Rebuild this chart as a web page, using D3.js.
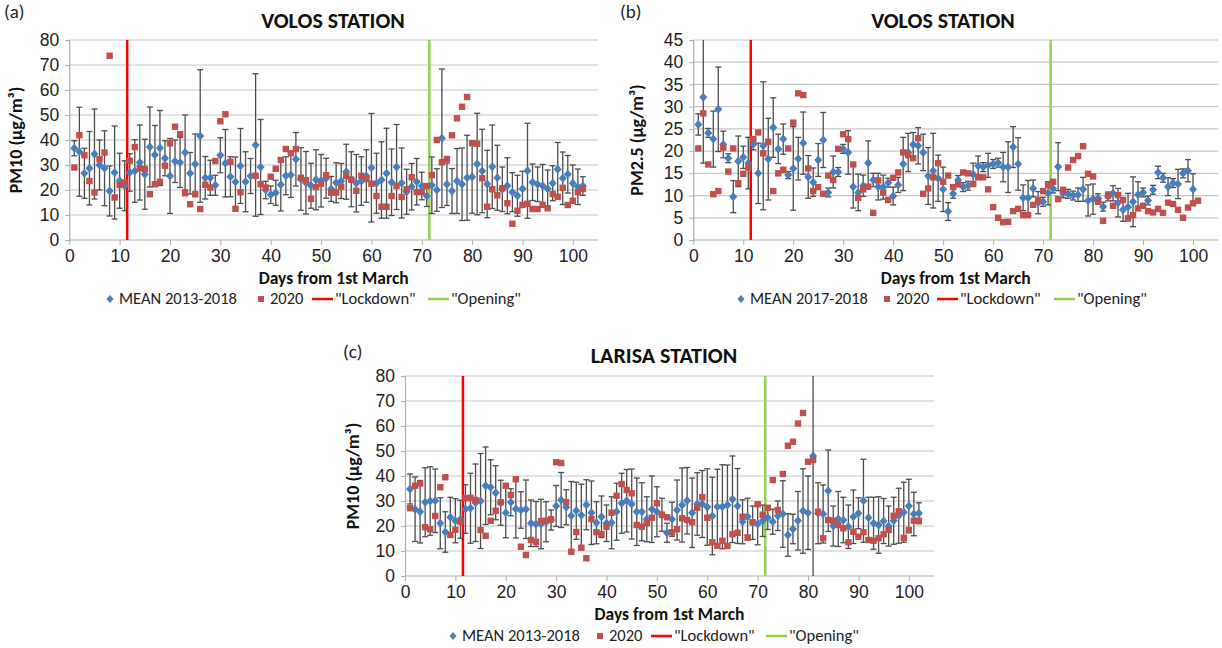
<!DOCTYPE html>
<html>
<head>
<meta charset="utf-8">
<script src="https://cdn.jsdelivr.net/npm/d3@7"></script>
<style>
  body { margin: 0; background: #fff; }
  svg { font-family: Carlito, Lato, "Open Sans", sans-serif; }
</style>
</head>
<body>
<svg id="chart" width="1222" height="648"></svg>
<script>
// days from 1st March
const daysA = d3.range(1, 103);
const daysB = d3.range(1, 102);
const daysC = d3.range(1, 103);

// (a) Volos PM10
const meanA = [36.7,35.3,26.7,28.7,34.4,30,28.7,19.6,27,23.7,21.7,27,27.6,31,26.3,37.2,34.1,36.8,32.7,25.6,
  31.5,31,35,26.7,30.4,41.6,24.9,24.9,21.9,33.9,30.7,25.3,23.2,29.6,23.3,25.6,38,29.2,20,18.1,
  18.9,22.1,25.7,26,32.3,24.4,22.9,21.7,24.1,23.7,24.7,20.4,22.9,23.6,27.3,24.3,22.7,23.6,25.6,28.9,
  22.7,24,26.7,23.1,29.2,22.8,19.3,21.3,23.3,21.6,17.6,21.9,20,40.7,22.3,19.6,23.6,22.3,24.9,25.2,
  30.4,27.6,22.4,29.3,24.9,20.3,21.7,19.1,17.7,20.5,27.7,23.1,22.3,21.7,20.5,22.7,28.3,24.7,26.3,22.7,
  21.3,21.6];
const sdA = [3,17.8,10,14.7,18,10,15,10,18.6,11,10,7.5,12.5,15,14,16,11.7,15,7,15,
  8.5,10,15,8.3,12,26.5,8.5,7,4,7,13.5,8,10,15,12,7,28.5,19,3.5,3.5,
  5,10.5,7.6,9,10.7,12.5,12.5,9,12,10.5,8,5,8,7,11,11,11.5,9.7,10.5,21.7,
  12,15.3,18,13.3,17,14,9,9.3,9.3,5.5,4.2,11.3,8.5,27.7,8.5,9,13,14.5,17,14.5,
  20.3,16.7,13.5,16.7,13,8.9,11.2,7.8,8.2,7,19,7.3,6.9,8.5,7.5,7,10.7,10.5,7.5,7.3,
  7.1,3.7];
const y2020A = [29,41.9,33.9,23.6,19,32.3,35,73.7,17,22,23,31.7,37.2,28.7,28.4,18.3,22.3,23.3,29.7,38.7,
  45.3,42.3,18.7,14.3,18.3,12.4,22.1,21,31.6,47.5,50.3,31.3,12.5,19.1,null,null,25.7,22.3,21,25.3,
  28.5,32,36.4,34.7,36.4,24.9,23.9,16.5,21.2,22.5,25.9,18.9,19,21.3,25.7,24.1,19.7,25.7,24.4,22.5,
  17.6,13.3,13.3,17.6,21.6,17.2,20.3,25.1,19.2,19.2,21.6,26,40,31.1,32.4,41.9,48.7,53.3,57.2,38.7,
  38.5,24.7,13.3,20.3,17.9,20.7,14.7,6.5,11.7,14,14.5,12.4,12.4,14.1,12.7,18.4,17.3,20.9,14,15.7,
  19.1,20.4];

// (b) Volos PM2.5
const meanB = [26,32.1,24.1,22.7,29.4,21.5,18.4,9.75,17.7,18.6,17.3,21.5,15,21.2,18.2,25.3,20.5,22.7,14.6,16.1,
  18.3,21.8,14.2,13,18,22.5,10.7,15.3,15.3,20.5,19.7,12,10.7,12.2,17.3,13.5,12,11.9,12.9,9.9,
  12.4,17.1,19.7,21.5,21.2,19.7,14.4,15.6,13.9,11.4,6.4,10.4,13.5,11.9,12.2,14.8,16.7,16.4,16.8,17.1,
  17.4,16.4,16.4,20.9,17.1,9.5,9.5,11.6,8.4,8.6,10.5,11.6,16.5,10.5,10.4,10,10.2,11.4,8.9,9.2,
  9.4,7.5,9.8,10.5,8.4,6.8,7.4,8.6,10.2,10.7,8.9,11.3,15.2,14,12,12.8,12.6,15,15.6,11.4,null];
const sdB = [2.4,14.8,1,6.3,9.5,3,1,3.6,5.7,2.5,5.8,1.2,6.8,14.4,9.2,6.7,3.3,3.4,0.8,9.4,
  4.8,7,4.8,3.2,3.7,6.2,1,3.6,1,1,4.9,4.8,4.1,2.4,5,1.5,3,2.7,1,2,
  1.7,6,4.3,2.7,4.1,4.1,6.4,8.4,5.2,5,2,1,1,1,1,2.5,2.2,1,2.7,1,
  1,3.3,5.7,4.6,5.9,2.9,3.9,1.9,2.5,1,2.6,1,5.4,1,1,1,1.5,2.7,3.5,3.4,
  1,1,1,1.7,3.2,2.6,3.1,5.6,2.9,1,1,1,1.4,1,2,1,3.3,1,2.5,3.5,null];
const y2020B = [20.6,28.5,17,10.3,11,20.8,15.4,20.6,12.8,14.9,16.3,22.7,24.2,19.5,22.1,11,15,15.8,20.6,26.4,
  33,32.6,16.1,11,11.9,10.4,14.5,13.5,20.5,23.8,22.7,17,9.5,11.4,12,6.1,13.4,10.7,9,14,
  15.2,19.7,19.1,18.4,22.9,10.4,11.6,14.1,17.3,13.1,14.5,11.9,12.5,15.2,15,12.6,14.1,14.1,11.4,7.4,
  5,4,4.1,6.5,7,5.6,5.6,7.9,9,11,12.4,13.1,9.2,11.3,16.3,18,18.9,21.1,14.9,14.3,
  8.6,4.3,10,7.7,10.1,9,4.9,5.6,7.1,7.7,6.5,6.2,7,6.1,8.4,8.1,6.8,5,7.3,8.25,8.85];

// (c) Larisa PM10
const meanC = [34.8,26.7,25.7,29.5,30,30.1,21.1,17.6,23.5,22.1,22.7,26.8,27.1,29.3,30,36.1,35.5,33.3,29.3,25.3,
  29.5,26.8,26.4,26.7,21.1,20.8,20.8,21.7,22.4,28,30.4,27.5,24.1,26.1,24.3,28.5,25.3,21.3,23.7,21.1,
  21.3,25.7,29.1,30.1,28.8,25.7,25.7,22.7,26.7,25.7,24.5,17.3,22.7,26.4,28.4,30.1,25.3,28.8,28.8,27.6,
  24,27.7,27.7,28.4,30.7,28,21.7,23.7,21.3,20.8,22.1,23.3,21.7,24.1,24.8,16.4,18.8,22.1,26,25.3,
  48,25.1,24.8,34.1,20,22.8,22.4,19.7,23.7,25.1,30.1,23.3,21.1,20.4,22,20,22.1,24.1,25.5,28,
  24.8,25.1];
const sdC = [6,12.9,12.5,13.8,13.7,12.7,10.2,8.1,8,8.8,7.6,9.7,14,15.5,19,15.5,11,10.8,9,10,
  5.4,11.6,7.3,11.7,9.3,9,9.9,8,4,8.2,11,7,13.7,11.4,12.4,10,12.7,8.4,8.3,7.3,
  10.4,11.4,12,12.5,14,13.5,11.6,9,13.3,10,6.6,3.8,6.8,12,14.8,13.3,13.9,12.5,13.4,15.3,
  15.5,15,16.8,16,17.3,15,8.8,7.4,6.7,8.3,6.3,4.7,5,5.9,13.3,8.5,5.9,11.7,16.9,14.7,
  50,12.2,11.6,16.3,8,11,9.1,8.7,10.7,6.2,16.6,8.2,10.4,11.3,9,8,9.4,11,12,10.7,
  8.7,4.2];
const y2020C = [27.1,36.1,37,19.5,18.7,24,35.5,39.5,16.4,18.5,21.7,31.1,31.3,30.4,18.4,16.1,22.1,26.1,29.5,36.1,
  32.4,38.7,11.7,8.4,14.4,13.7,22,22.1,22.7,45.5,45.2,29.5,9.7,17.6,11.3,7.1,22.8,17.5,16.8,19.7,
  25.3,32.1,36.8,34.4,33.1,20.4,19.7,21.1,23.3,29.1,24.5,23.5,17.5,18.7,23.1,22.4,21.5,27.3,31.5,23.3,
  13.5,12.1,14.1,12,16.7,17.3,23.7,15.3,21.5,28.7,24.5,27.3,38.4,26.4,40.8,52.1,53.7,61,65.2,45.7,
  46.4,25.7,15.1,22.4,22.1,20.4,19.1,13.5,17.7,15.7,17.5,14.4,14.1,15.1,16.7,18.4,24.1,25.9,15.3,18.4,
  22.1,22.1];

const xTicks = d3.range(0, 101, 10);
const lockdownDay = 11.5;
const openingDay = 71.5;

const BLUE = "#4a7ebb", RED = "#c0504d", BAR = "#4d4d4d", GRID = "#c8c8c8", TXT = "#222";
const svg = d3.select("#chart");

function drawPanel(p) {
  const x = d3.scaleLinear().domain([0, 105]).range([p.left, p.right]);
  const y = d3.scaleLinear().domain([0, p.ymax]).range([p.bottom, p.top]);
  const g = svg.append("g");

  // grid
  g.append("g").selectAll("line").data(d3.range(p.ystep, p.ymax + 0.01, p.ystep)).join("line")
    .attr("x1", p.left).attr("x2", p.right)
    .attr("y1", d => y(d)).attr("y2", d => y(d))
    .attr("stroke", GRID).attr("stroke-width", 1.2);

  // axes
  const yAxis = g.append("g").attr("transform", `translate(${p.left},0)`)
    .call(d3.axisLeft(y).tickValues(d3.range(0, p.ymax + 0.01, p.ystep)).tickSize(4).tickPadding(6));
  const xAxis = g.append("g").attr("transform", `translate(0,${p.bottom})`)
    .call(d3.axisBottom(x).tickValues(xTicks).tickSize(5).tickPadding(5));
  [xAxis, yAxis].forEach(a => {
    a.select(".domain").attr("stroke", "#b0b0b0").attr("stroke-width", 1.2);
    a.selectAll(".tick line").attr("stroke", "#b0b0b0");
    a.selectAll(".tick text").attr("fill", TXT).attr("font-size", 17.5);
  });
  xAxis.select(".domain").attr("d", `M${p.left},0H${p.right}`);

  // event lines
  g.append("line").attr("x1", x(lockdownDay)).attr("x2", x(lockdownDay))
    .attr("y1", y(0)).attr("y2", y(p.ymax)).attr("stroke", "#ff0000").attr("stroke-width", 2.5);
  g.append("line").attr("x1", x(openingDay)).attr("x2", x(openingDay))
    .attr("y1", y(0)).attr("y2", y(p.ymax)).attr("stroke", "#92d050").attr("stroke-width", 2.5);

  const meanPts = p.days.map((d, i) => ({ d, m: p.mean[i], s: p.sd[i] })).filter(e => e.m != null);
  const clampY = v => y(Math.max(0, Math.min(p.ymax, v)));

  // error bars
  const eb = g.append("g").attr("stroke", BAR).attr("stroke-width", 1.3);
  eb.selectAll("line.v").data(meanPts).join("line").attr("class", "v")
    .attr("x1", e => x(e.d)).attr("x2", e => x(e.d))
    .attr("y1", e => clampY(e.m - e.s)).attr("y2", e => clampY(e.m + e.s));
  eb.selectAll("line.hi").data(meanPts.filter(e => e.m + e.s <= p.ymax)).join("line").attr("class", "hi")
    .attr("x1", e => x(e.d) - 3).attr("x2", e => x(e.d) + 3)
    .attr("y1", e => y(e.m + e.s)).attr("y2", e => y(e.m + e.s));
  eb.selectAll("line.lo").data(meanPts.filter(e => e.m - e.s >= 0)).join("line").attr("class", "lo")
    .attr("x1", e => x(e.d) - 3).attr("x2", e => x(e.d) + 3)
    .attr("y1", e => y(e.m - e.s)).attr("y2", e => y(e.m - e.s));

  // mean markers (diamonds)
  g.append("g").selectAll("path").data(meanPts).join("path")
    .attr("d", "M0,-4.5L4,0L0,4.5L-4,0Z")
    .attr("transform", e => `translate(${x(e.d)},${y(e.m)})`)
    .attr("fill", BLUE);

  // 2020 markers (squares)
  const redPts = p.days.map((d, i) => ({ d, v: p.y2020[i] })).filter(e => e.v != null);
  g.append("g").selectAll("rect").data(redPts).join("rect")
    .attr("x", e => x(e.d) - 3.2).attr("y", e => y(e.v) - 3.2)
    .attr("width", 6.4).attr("height", 6.4).attr("fill", RED);

  // texts
  svg.append("text").attr("x", p.tagX).attr("y", p.tagY).attr("font-size", 19).attr("fill", TXT).text(p.tag);
  svg.append("text").attr("x", p.titleX).attr("y", p.titleY).attr("text-anchor", "middle")
    .attr("font-size", 22).attr("font-weight", "bold").attr("fill", "#111").text(p.title);
  svg.append("text").attr("transform", `translate(${p.ylabX},${(p.top + p.bottom) / 2}) rotate(-90)`)
    .attr("text-anchor", "middle").attr("font-size", 18).attr("font-weight", "bold").attr("fill", "#111")
    .text(p.ylab);
  svg.append("text").attr("x", (p.left + p.right) / 2).attr("y", p.bottom + 44).attr("text-anchor", "middle")
    .attr("font-size", 17.5).attr("font-weight", "bold").attr("fill", "#111").text("Days from 1st March");

  // legend
  const ly = p.legendY, lx = p.legendX;
  const lg = svg.append("g").attr("font-size", 16.5).attr("fill", TXT);
  lg.append("path").attr("d", "M0,-4L3.5,0L0,4L-3.5,0Z").attr("fill", BLUE)
    .attr("transform", `translate(${lx[0]},${ly})`);
  lg.append("text").attr("x", lx[0] + 9).attr("y", ly + 5).text(p.meanLabel);
  lg.append("rect").attr("x", lx[1] - 3).attr("y", ly - 3).attr("width", 6).attr("height", 6).attr("fill", RED);
  lg.append("text").attr("x", lx[1] + 9).attr("y", ly + 5).text("2020");
  lg.append("line").attr("x1", lx[2]).attr("x2", lx[2] + 21).attr("y1", ly).attr("y2", ly)
    .attr("stroke", "#ff0000").attr("stroke-width", 2.5);
  lg.append("text").attr("x", lx[2] + 23).attr("y", ly + 5).text("\"Lockdown\"");
  lg.append("line").attr("x1", lx[3]).attr("x2", lx[3] + 21).attr("y1", ly).attr("y2", ly)
    .attr("stroke", "#92d050").attr("stroke-width", 2.5);
  lg.append("text").attr("x", lx[3] + 23).attr("y", ly + 5).text("\"Opening\"");
}

drawPanel({
  days: daysA, mean: meanA, sd: sdA, y2020: y2020A,
  left: 69.3, right: 598, top: 40, bottom: 240, ymax: 80, ystep: 10,
  tag: "(a)", tagX: 4, tagY: 18, title: "VOLOS STATION", titleX: 333, titleY: 28,
  ylab: "PM10  (μg/m³)", ylabX: 22, meanLabel: "MEAN 2013-2018",
  legendY: 299, legendX: [110, 261, 312, 428]
});
drawPanel({
  days: daysB, mean: meanB, sd: sdB, y2020: y2020B,
  left: 693.3, right: 1218, top: 40, bottom: 240, ymax: 45, ystep: 5,
  tag: "(b)", tagX: 620, tagY: 18, title: "VOLOS STATION", titleX: 943, titleY: 28,
  ylab: "PM2.5  (μg/m³)", ylabX: 643, meanLabel: "MEAN 2017-2018",
  legendY: 299, legendX: [741, 887, 937, 1054]
});
drawPanel({
  days: daysC, mean: meanC, sd: sdC, y2020: y2020C,
  left: 405, right: 934, top: 376, bottom: 576, ymax: 80, ystep: 10,
  tag: "(c)", tagX: 343, tagY: 358, title: "LARISA STATION", titleX: 664, titleY: 363,
  ylab: "PM10  (μg/m³)", ylabX: 359, meanLabel: "MEAN 2013-2018",
  legendY: 636, legendX: [453, 600, 651, 766]
});
</script>
</body>
</html>
